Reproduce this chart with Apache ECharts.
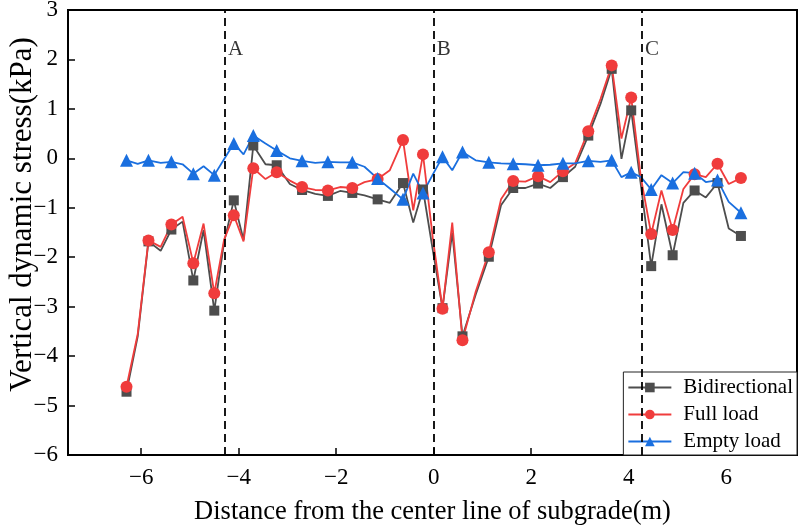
<!DOCTYPE html>
<html>
<head>
<meta charset="utf-8">
<script src="https://cdn.jsdelivr.net/npm/echarts@6/dist/echarts.min.js"></script>
<style>
  html, body { margin: 0; padding: 0; background: #fff; }
  #chart { width: 800px; height: 531px; }
</style>
</head>
<body>
<div id="chart"></div>
<script>
// marker positions (m) and the extra polyline vertices between them
const xMarks = [-6.3, -5.85, -5.38, -4.93, -4.5, -4.1, -3.7, -3.22, -2.7, -2.17, -1.67, -1.15, -0.63, -0.22,
  0.18, 0.59, 1.13, 1.63, 2.14, 2.65, 3.17, 3.65, 4.05, 4.46, 4.9, 5.35, 5.82, 6.3];
const xMids = [-6.07, -5.6, -5.15, -4.72, -4.3, -3.9, -3.45, -2.95, -2.43, -1.92, -1.42, -0.9, -0.42,
  -0.02, 0.38, 0.86, 1.38, 1.88, 2.39, 2.9, 3.42, 3.85, 4.25, 4.67, 5.12, 5.58, 6.05];

// Bidirectional
const bidiMarks = [-4.72, -1.68, -1.44, -2.47, -3.08, -0.85, 0.26, -0.14, -0.64, -0.76, -0.7, -0.83, -0.5, -0.63,
  -3.03, -3.6, -1.99, -0.6, -0.51, -0.38, 0.46, 1.81, 0.97, -2.18, -1.96, -0.65, -0.5, -1.57];
const bidiMids = [-3.6, -1.87, -1.28, -1.45, -1.7, -1.65, -0.12, -0.52, -0.72, -0.66, -0.75, -0.9, -1.3,
  -1.85, -1.5, -2.76, -0.95, -0.6, -0.6, -0.17, 1.1, -0.01, -0.55, -0.93, -0.9, -0.79, -1.42];

// Full load
const fullMarks = [-4.62, -1.66, -1.34, -2.12, -2.73, -1.15, -0.2, -0.28, -0.58, -0.65, -0.6, -0.42, 0.37, 0.08,
  -3.04, -3.68, -1.9, -0.46, -0.36, -0.26, 0.55, 1.88, 1.23, -1.53, -1.45, -0.32, -0.11, -0.4];
const fullMids = [-3.55, -1.79, -1.18, -1.32, -1.65, -1.68, -0.42, -0.45, -0.64, -0.58, -0.48, -0.24, -1.05,
  -1.6, -1.3, -2.7, -0.83, -0.47, -0.48, -0.1, 1.2, 0.4, -0.4, -0.65, -0.62, -0.38, -0.52];

// Empty load
const emptyMarks = [-0.04, -0.04, -0.07, -0.31, -0.34, 0.3, 0.46, 0.16, -0.05, -0.07, -0.08, -0.41, -0.83, -0.7,
  0.03, 0.13, -0.08, -0.11, -0.14, -0.1, -0.05, -0.04, -0.28, -0.63, -0.5, -0.3, -0.44, -1.1];
const emptyMids = [-0.11, -0.09, -0.12, -0.16, -0.02, 0.08, 0.3, 0.0, -0.09, -0.08, -0.17, -0.61, -0.31,
  -0.33, -0.24, -0.04, -0.1, -0.12, -0.13, -0.1, -0.07, -0.38, -0.38, -0.34, -0.28, -0.48, -0.88];

const dividers = [-4.28, 0, 4.27];
const dividerNames = ['A', 'B', 'C'];

const font = 'Liberation Serif';
const minus = (v) => String(v).replace('-', '\u2212');

// interleave marker points with the plain vertices
const buildLine = (marks, mids) => {
  const out = [];
  marks.forEach((v, i) => {
    out.push({ value: [xMarks[i], v] });
    if (i < mids.length) out.push({ value: [xMids[i], mids[i]], symbol: 'none' });
  });
  return out;
};

const chart = echarts.init(document.getElementById('chart'));

const lineSeries = (name, color, symbol, size, marks, mids) => ({
  name,
  type: 'line',
  data: buildLine(marks, mids),
  symbol,
  symbolSize: size,
  showAllSymbol: true,
  color,
  lineStyle: { color, width: 1.8 },
  itemStyle: { color },
  animation: false,
});

chart.setOption({
  animation: false,
  grid: {
    left: 68, right: 3, top: 10, bottom: 76,
    outerBoundsMode: 'none',
    containLabel: false,
    show: true, borderColor: '#000', borderWidth: 2,
  },
  legend: {
    orient: 'vertical',
    right: 3,
    bottom: 76,
    backgroundColor: '#fff',
    borderColor: '#222',
    borderWidth: 1,
    padding: [5, 4, 3, 4],
    itemGap: 6,
    itemWidth: 43,
    itemHeight: 12,
    textStyle: { fontFamily: font, fontSize: 21, color: '#000', padding: [0, 0, 0, 7] },
    data: ['Bidirectional', 'Full load', 'Empty load'],
  },
  xAxis: {
    type: 'value',
    min: -7.5,
    max: 7.45,
    splitNumber: 7,
    name: 'Distance from the center line of subgrade(m)',
    nameLocation: 'middle',
    nameGap: 44,
    nameMoveOverlap: false,
    nameTextStyle: { fontFamily: font, fontSize: 26.5, color: '#000' },
    axisLine: { onZero: false, lineStyle: { color: '#000', width: 2 } },
    axisTick: { inside: true, length: 7, lineStyle: { color: '#000', width: 1.5 } },
    axisLabel: {
      fontFamily: font, fontSize: 23, color: '#000', margin: 11,
      showMinLabel: false, showMaxLabel: false,
      formatter: minus,
    },
    splitLine: { show: false },
  },
  yAxis: {
    type: 'value',
    min: -6,
    max: 3,
    interval: 1,
    name: 'Vertical dynamic stress(kPa)',
    nameLocation: 'middle',
    nameGap: 30,
    nameMoveOverlap: false,
    nameTextStyle: { fontFamily: font, fontSize: 31, color: '#000', padding: [0, 0, 0, 36] },
    axisLine: { onZero: false, lineStyle: { color: '#000', width: 2 } },
    axisTick: { inside: true, length: 7, lineStyle: { color: '#000', width: 1.5 } },
    axisLabel: { fontFamily: font, fontSize: 23, color: '#000', margin: 10, formatter: minus },
    splitLine: { show: false },
  },
  series: [
    lineSeries('Bidirectional', '#4d4d4d', 'rect', 10, bidiMarks, bidiMids),
    lineSeries('Full load', '#f03c3c', 'circle', 12, fullMarks, fullMids),
    lineSeries('Empty load', '#1a6fdf', 'triangle', 13, emptyMarks, emptyMids),
    {
      // section dividers A, B, C
      type: 'scatter',
      silent: true,
      symbolSize: 0,
      data: dividers.map((x, i) => ({ value: [x, 2.2], name: dividerNames[i] })),
      label: {
        show: true, position: 'right', distance: 3,
        formatter: (p) => p.name,
        fontFamily: font, fontSize: 21, color: '#000',
      },
      markLine: {
        silent: true,
        symbol: 'none',
        label: { show: false },
        lineStyle: { color: '#000', type: [8, 5], width: 1.8 },
        data: dividers.map((x) => ({ xAxis: x })),
      },
      animation: false,
    },
  ],
});
</script>
</body>
</html>
